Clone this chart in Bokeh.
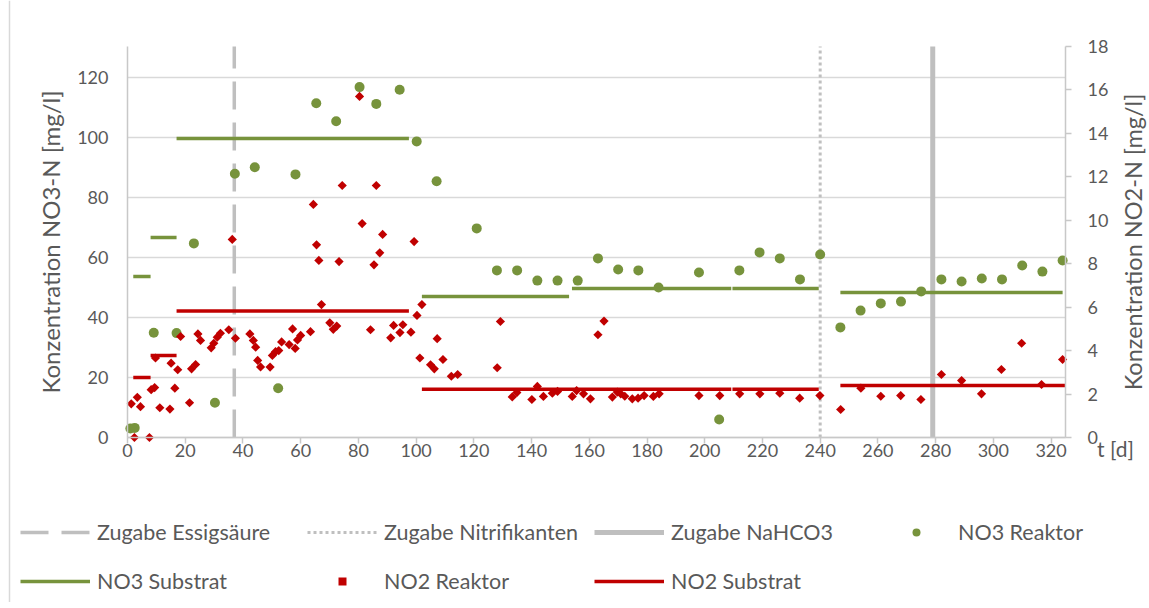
import math
from bokeh.plotting import figure
from bokeh.models import Range1d, LinearAxis, Legend, LegendItem, Label, FixedTicker, Span
from bokeh.embed import file_html
from bokeh.resources import INLINE

FONT = "Lato"
GREEN = "#77933C"
RED = "#C00000"
GREY = "#BFBFBF"
AXIS = "#C8C8C8"
TXT = "#595959"

# ---------------- data ----------------
no3_t = [1, 2.5, 9.1, 17, 23, 30.3, 37.2, 44.1, 52.2, 58.2, 65.4, 72.3, 80.4, 86.2, 94.3,
         100.2, 107.1, 121, 128, 135, 142, 149, 156, 163, 170, 177, 184, 198, 205, 212,
         219, 226, 233, 240, 247, 254, 261, 268, 275, 282, 289, 296, 303, 310, 317, 324]
no3_v = [3.0, 3.2, 34.9, 34.8, 64.7, 11.6, 87.9, 90.1, 16.4, 87.7, 111.4, 105.4, 116.8, 111.2, 115.9,
         98.7, 85.4, 69.7, 55.7, 55.7, 52.3, 52.3, 52.3, 59.7, 56.0, 55.7, 50.0, 55.0, 6.0, 55.7,
         61.7, 59.7, 52.7, 61.0, 36.7, 42.3, 44.7, 45.3, 48.7, 52.7, 52.0, 53.0, 52.7, 57.3, 55.3, 59.0]

no2_t = [1.3, 2.4, 3.4, 4.5, 7.6, 8.2, 9.4, 9.7, 11.2, 14.7, 15.1, 16.4, 17.4, 18.4, 21.5,
         22.2, 23.6, 24.4, 25.3, 29.0, 29.9, 31.1, 32.2, 35.1, 36.3, 37.4, 42.4, 43.6, 44.4,
         45.1, 46.1, 49.4, 50.2, 51.3, 52.4, 53.4, 56.0, 57.2, 58.1, 58.9, 60.0, 63.4, 64.4,
         65.5, 66.3, 67.2, 70.1, 71.3, 72.5, 73.3, 74.4, 80.4, 81.3, 84.2, 85.4, 86.2, 87.4,
         88.4, 91.2, 92.2, 94.4, 95.4, 98.2, 99.3, 100.3, 101.3, 102.0, 105.0, 106.3, 107.3,
         109.3, 112.2, 114.4, 128.1, 129.2, 133.3, 134.9, 140.1, 142.0, 144.1, 147.2, 149.0,
         154.1, 155.6, 158.0, 160.4, 163.0, 165.1, 168.0, 169.7, 170.9, 172.3, 174.9, 176.9,
         179.0, 182.2, 184.2, 198.0, 205.2, 212.1, 219.1, 226.0, 232.9, 239.9, 247.1, 254.1,
         261.0, 267.9, 274.9, 282.0, 289.0, 295.9, 302.8, 309.8, 316.7, 324.0]
no2_v = [1.55, 0.0, 1.85, 1.42, 0.0, 2.2, 2.3, 3.66, 1.37, 1.31, 3.42, 2.27, 3.12, 4.65, 1.6,
         3.16, 3.36, 4.77, 4.47, 4.13, 4.34, 4.62, 4.8, 4.96, 9.12, 4.57, 4.77, 4.47, 4.16,
         3.55, 3.25, 3.24, 3.78, 3.95, 4.0, 4.4, 4.28, 5.0, 4.1, 4.49, 4.7, 4.87, 10.73,
         8.87, 8.15, 6.12, 5.28, 4.98, 5.13, 8.1, 11.6, 15.7, 9.85, 4.96, 7.95, 11.6, 8.5,
         9.35, 4.59, 5.16, 4.83, 5.19, 4.85, 9.02, 5.62, 3.66, 6.12, 3.35, 3.16, 4.55,
         3.59, 2.82, 2.9, 3.21, 5.34, 1.87, 2.07, 1.75, 2.35, 1.89, 2.04, 2.12,
         1.89, 2.16, 2.01, 1.78, 4.73, 5.36, 1.86, 2.09, 2.01, 1.9, 1.78, 1.81,
         1.93, 1.89, 2.01, 1.93, 1.93, 2.01, 2.01, 2.04, 1.81, 1.93, 1.29, 2.27,
         1.9, 1.93, 1.75, 2.9, 2.62, 2.01, 3.13, 4.34, 2.44, 3.59]

no3_sub_start = [2, 8, 17, 102, 154, 209.6, 247]
no3_sub_end = [8, 17, 97.5, 153, 209.2, 239.5, 324]
no3_sub_val = [53.7, 66.7, 99.7, 47.0, 49.7, 49.7, 48.3]

no2_sub_start = [2, 8, 17, 102, 209.6, 247]
no2_sub_end = [8, 17, 97.5, 209.2, 239.5, 325]
no2_sub_val = [2.76, 3.78, 5.82, 2.22, 2.22, 2.39]

essig_day = [37]
nitri_day = [240]
nahco3_day = [279]

x_ticks = list(range(0, 321, 20))
left_ticks = list(range(0, 121, 20))
right_ticks = list(range(0, 19, 2))

X_END = 325
L_END = 130.33
R_END = 18

# ---------------- layout geometry (pixels) ----------------
W, H = 1149, 602
PL, PR, PT, PB = 127, 1065, 46, 437          # plot area edges
sx = (PR - PL) / X_END
sl = (PB - PT) / L_END
sr = (PB - PT) / R_END

def px_x(px):
    return (px - PL) / sx

def px_y(py):
    return (PB - py) / sl

p = figure(width=W, height=H, min_border=0,
           x_range=Range1d(px_x(0), px_x(W)),
           y_range=Range1d(px_y(H), px_y(0)),
           output_backend="svg", toolbar_location=None,
           background_fill_color="white", border_fill_color="white")
p.min_border_left = p.min_border_right = p.min_border_top = p.min_border_bottom = 0
p.outline_line_color = None
p.extra_y_ranges = {"no2": Range1d(-(H - PB) / sr, R_END + PT / sr)}
p.grid.visible = False

# chart frame edge (left border of the chart box)
p.add_layout(Span(location=px_x(9), dimension="height", line_color="#D9D9D9", line_width=1.5))

# gridlines (horizontal, across plot area only)
p.segment(x0=[0] * len(left_ticks), y0=left_ticks, x1=[X_END] * len(left_ticks), y1=left_ticks,
          line_color="#D9D9D9", line_width=1.5)

# x axis
xa = p.xaxis[0]
xa.fixed_location = 0
xa.bounds = (0, X_END)
xa.ticker = FixedTicker(ticks=x_ticks)
xa.axis_line_color = AXIS
xa.axis_line_width = 1.5
xa.major_tick_line_color = AXIS
xa.major_tick_line_width = 1.5
xa.major_tick_out = 6
xa.major_tick_in = 0
xa.minor_tick_line_color = None
xa.major_label_text_font = FONT
xa.major_label_text_font_size = "18px"
xa.major_label_text_color = TXT
xa.major_label_standoff = 0

# left axis
ya = p.yaxis[0]
ya.fixed_location = 0
ya.bounds = (0, L_END)
ya.ticker = FixedTicker(ticks=left_ticks)
ya.axis_line_color = AXIS
ya.axis_line_width = 1.5
ya.major_tick_line_color = None
ya.major_tick_out = 0
ya.minor_tick_line_color = None
ya.major_label_text_font = FONT
ya.major_label_text_font_size = "18px"
ya.major_label_text_color = TXT
ya.major_label_standoff = 19
ya.axis_label = "Konzentration NO3-N [mg/l]"
ya.axis_label_text_font = FONT
ya.axis_label_text_font_size = "24px"
ya.axis_label_text_font_style = "normal"
ya.axis_label_text_color = TXT
ya.axis_label_standoff = 9

# right axis
ra = LinearAxis(y_range_name="no2", ticker=FixedTicker(ticks=right_ticks),
                fixed_location=X_END, bounds=(0, R_END))
ra.axis_line_color = AXIS
ra.axis_line_width = 1.5
ra.major_tick_line_color = AXIS
ra.major_tick_line_width = 1.5
ra.major_tick_out = 6
ra.major_tick_in = 0
ra.minor_tick_line_color = None
ra.major_label_text_font = FONT
ra.major_label_text_font_size = "18px"
ra.major_label_text_color = TXT
ra.major_label_standoff = 16
p.add_layout(ra, "right")

# right axis title (reads bottom-to-top)
p.add_layout(Label(x=px_x(1132), y=px_y((PT + PB) / 2), text="Konzentration NO2-N [mg/l]",
                   angle=math.pi / 2, text_font=FONT, text_font_size="23.5px", text_color=TXT,
                   text_align="center", text_baseline="middle"))

# ---------------- glyphs ----------------
r_essig = p.segment(x0=essig_day, y0=[0] * len(essig_day), x1=essig_day, y1=[L_END] * len(essig_day),
                    line_color=GREY, line_width=3.5, line_dash="28 13")
r_nitri = p.segment(x0=nitri_day, y0=[0] * len(nitri_day), x1=nitri_day, y1=[L_END] * len(nitri_day),
                    line_color=GREY, line_width=3, line_dash="3 3")
r_nahco3 = p.segment(x0=nahco3_day, y0=[0] * len(nahco3_day), x1=nahco3_day, y1=[L_END] * len(nahco3_day),
                     line_color=GREY, line_width=5)

r_no3 = p.scatter(no3_t, no3_v, marker="circle", size=10, fill_color=GREEN, line_color=None)
r_no3s = p.segment(x0=no3_sub_start, y0=no3_sub_val, x1=no3_sub_end, y1=no3_sub_val,
                   line_color=GREEN, line_width=3.5)
r_no2 = p.scatter(no2_t, no2_v, marker="square", angle=0.785398, size=6.5,
                  fill_color=RED, line_color=None, y_range_name="no2")
r_no2s = p.segment(x0=no2_sub_start, y0=no2_sub_val, x1=no2_sub_end, y1=no2_sub_val,
                   line_color=RED, line_width=3.5, y_range_name="no2")

# "t [d]" label, right of the x axis
p.add_layout(Label(x=px_x(1115), y=px_y(448), text="t [d]", text_font=FONT,
                   text_font_size="21px", text_color=TXT, text_align="center",
                   text_baseline="middle"))

# ---------------- legends ----------------
def make_legend(items, loc):
    return Legend(items=items, location=loc, orientation="horizontal",
                  glyph_width=70, glyph_height=20, label_width=210, label_height=20,
                  label_standoff=7, spacing=0, padding=0, margin=0,
                  border_line_color=None, background_fill_alpha=0,
                  label_text_font=FONT, label_text_font_size="21.5px", label_text_color=TXT)

leg1 = make_legend([LegendItem(label="Zugabe Essigsäure", renderers=[r_essig]),
                    LegendItem(label="Zugabe Nitrifikanten", renderers=[r_nitri]),
                    LegendItem(label="Zugabe NaHCO3", renderers=[r_nahco3]),
                    LegendItem(label="NO3 Reaktor", renderers=[r_no3])], (20, H - 545))
leg2 = make_legend([LegendItem(label="NO3 Substrat", renderers=[r_no3s]),
                    LegendItem(label="NO2 Reaktor", renderers=[r_no2]),
                    LegendItem(label="NO2 Substrat", renderers=[r_no2s])], (20, H - 594))
p.add_layout(leg1)
p.add_layout(leg2)

open("out.html", "w").write(file_html(p, INLINE))
